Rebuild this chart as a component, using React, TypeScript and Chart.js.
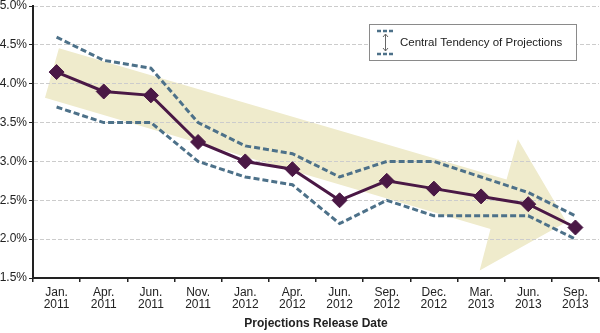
import React, { useEffect, useRef } from 'react';
import { Chart, registerables } from 'chart.js';

Chart.register(...registerables);

const categories: string[][] = [
  ['Jan.', '2011'], ['Apr.', '2011'], ['Jun.', '2011'], ['Nov.', '2011'],
  ['Jan.', '2012'], ['Apr.', '2012'], ['Jun.', '2012'], ['Sep.', '2012'],
  ['Dec.', '2012'], ['Mar.', '2013'], ['Jun.', '2013'], ['Sep.', '2013'],
];
const median = [4.15, 3.9, 3.85, 3.25, 3.0, 2.9, 2.5, 2.75, 2.65, 2.55, 2.45, 2.15];
const upper = [4.6, 4.3, 4.2, 3.5, 3.2, 3.1, 2.8, 3.0, 3.0, 2.8, 2.6, 2.3];
const lower = [3.7, 3.5, 3.5, 3.0, 2.8, 2.7, 2.2, 2.5, 2.3, 2.3, 2.3, 2.0];
const yTicks = [1.5, 2.0, 2.5, 3.0, 3.5, 4.0, 4.5, 5.0];
// background trend arrow outline (category index, percent)
const arrowX = [0.05, 9.54, 9.78, 10.81, 8.97, 9.2, -0.246];
const arrowY = [4.455, 2.766, 3.286, 2.22, 1.597, 2.13, 3.818];
const legendLabel = 'Central Tendency of Projections';
const xTitle = 'Projections Release Date';

const FONT = '"Liberation Sans", Arial, sans-serif';
const DASH_COLOR = '#4d7189';
const MEDIAN_COLOR = '#4a1845';
const ARROW_COLOR = '#efebcc';
const TEXT = '#222222';

const arrowPlugin = {
  id: 'trendArrow',
  beforeDraw(chart: any) {
    const { ctx, scales } = chart;
    const xs = scales.x;
    const ys = scales.y;
    ctx.save();
    ctx.beginPath();
    arrowX.forEach((v, i) => {
      const px = xs.getPixelForValue(v);
      const py = ys.getPixelForValue(arrowY[i]);
      if (i === 0) ctx.moveTo(px, py);
      else ctx.lineTo(px, py);
    });
    ctx.closePath();
    ctx.fillStyle = ARROW_COLOR;
    ctx.fill();
    ctx.restore();
  },
};

const legendPlugin = {
  id: 'ctLegend',
  afterDraw(chart: any) {
    const { ctx, chartArea } = chart;
    const left = chartArea.right - 230;
    const top = chartArea.top + 18;
    const w = 207;
    const h = 36;
    ctx.save();
    ctx.fillStyle = '#ffffff';
    ctx.fillRect(left, top, w, h);
    ctx.strokeStyle = '#8a8a8a';
    ctx.lineWidth = 1;
    ctx.strokeRect(left + 0.5, top + 0.5, w, h);
    // icon dashes
    ctx.strokeStyle = DASH_COLOR;
    ctx.lineWidth = 2.5;
    ctx.setLineDash([4, 2]);
    ctx.beginPath();
    ctx.moveTo(left + 8, top + 7);
    ctx.lineTo(left + 24, top + 7);
    ctx.moveTo(left + 8, top + h - 6);
    ctx.lineTo(left + 24, top + h - 6);
    ctx.stroke();
    ctx.setLineDash([]);
    // vertical double arrow
    const ax = left + 16;
    const ay1 = top + 10;
    const ay2 = top + h - 9;
    ctx.strokeStyle = '#666666';
    ctx.lineWidth = 1;
    ctx.beginPath();
    ctx.moveTo(ax + 0.5, ay1);
    ctx.lineTo(ax + 0.5, ay2);
    ctx.moveTo(ax - 2, ay1 + 3);
    ctx.lineTo(ax + 0.5, ay1);
    ctx.lineTo(ax + 3, ay1 + 3);
    ctx.moveTo(ax - 2, ay2 - 3);
    ctx.lineTo(ax + 0.5, ay2);
    ctx.lineTo(ax + 3, ay2 - 3);
    ctx.stroke();
    ctx.fillStyle = TEXT;
    ctx.font = `11.5px ${FONT}`;
    ctx.textBaseline = 'middle';
    ctx.textAlign = 'left';
    ctx.fillText(legendLabel, left + 31, top + h / 2 + 1);
    ctx.restore();
  },
};

export default function App() {
  const ref = useRef<HTMLCanvasElement | null>(null);

  useEffect(() => {
    document.body.style.margin = '0';
    const canvas = ref.current;
    if (!canvas) return;
    const chart = new Chart(canvas, {
      type: 'line',
      data: {
        labels: categories,
        datasets: [
          {
            label: 'Upper',
            data: upper,
            borderColor: DASH_COLOR,
            borderWidth: 3,
            borderDash: [6, 3],
            pointRadius: 0,
            fill: false,
            tension: 0,
          },
          {
            label: 'Lower',
            data: lower,
            borderColor: DASH_COLOR,
            borderWidth: 3,
            borderDash: [6, 3],
            pointRadius: 0,
            fill: false,
            tension: 0,
          },
          {
            label: 'Median',
            data: median,
            borderColor: MEDIAN_COLOR,
            backgroundColor: MEDIAN_COLOR,
            borderWidth: 3,
            pointStyle: 'rectRot',
            pointRadius: 7.5,
            pointBorderWidth: 1,
            pointBackgroundColor: MEDIAN_COLOR,
            pointBorderColor: MEDIAN_COLOR,
            fill: false,
            tension: 0,
          },
        ],
      },
      options: {
        animation: false,
        responsive: false,
        maintainAspectRatio: false,
        layout: { autoPadding: false, padding: { left: 0, right: 1, top: 6, bottom: 0 } },
        plugins: {
          legend: { display: false },
          tooltip: { enabled: false },
        },
        scales: {
          x: {
            type: 'category',
            offset: true,
            grid: {
              offset: true,
              drawOnChartArea: false,
              drawTicks: true,
              tickLength: 4,
              color: TEXT,
              lineWidth: 1.5,
            },
            border: { display: true, color: TEXT, width: 2 },
            ticks: {
              color: TEXT,
              font: { family: FONT, size: 12, lineHeight: 1.05 },
              padding: 4,
              maxRotation: 0,
              autoSkip: false,
            },
            title: {
              display: true,
              text: xTitle,
              color: TEXT,
              font: { family: FONT, size: 12, weight: 'bold' },
              padding: { top: 2, bottom: 2 },
            },
            afterFit(scale: any) {
              scale.height = 55;
              scale.paddingLeft = 0;
              scale.paddingRight = 0;
            },
          },
          y: {
            type: 'linear',
            min: 1.5,
            max: 5.0,
            afterBuildTicks(scale: any) {
              scale.ticks = yTicks.map((v) => ({ value: v }));
            },
            grid: {
              color: '#cccccc',
              lineWidth: 1,
              drawTicks: true,
              tickLength: 4,
              tickColor: TEXT,
            },
            border: { display: true, color: TEXT, width: 2, dash: [4, 2] },
            ticks: {
              color: TEXT,
              font: { family: FONT, size: 12 },
              padding: 2,
              callback: (v: any) => Number(v).toFixed(1) + '%',
            },
            afterFit(scale: any) {
              scale.width = 33;
              scale.paddingTop = 0;
              scale.paddingBottom = 0;
            },
          },
        },
      },
      plugins: [arrowPlugin, legendPlugin],
    });
    return () => chart.destroy();
  }, []);

  return (
    <div style={{ width: 600, height: 333 }}>
      <canvas ref={ref} width={600} height={333} style={{ display: 'block' }} />
    </div>
  );
}
